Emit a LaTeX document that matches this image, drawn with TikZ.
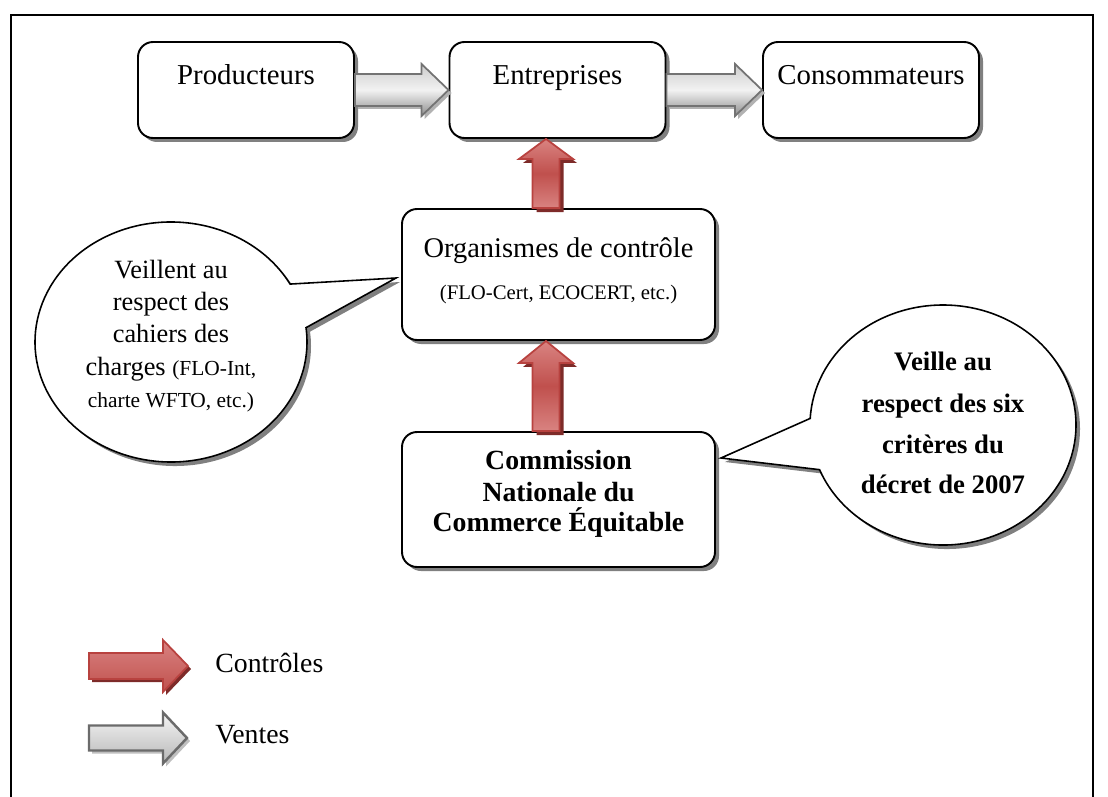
\documentclass[tikz,border=0pt]{standalone}
\usepackage{fontspec}
\setmainfont{Liberation Serif}
\usetikzlibrary{shapes.callouts,shadows,calc}
\newlength\pxl \setlength\pxl{0.02cm}
\definecolor{redbase}{HTML}{C0504D}
\definecolor{redlight}{HTML}{D98381}
\definecolor{reddark}{HTML}{7E2B29}
\definecolor{redline}{HTML}{B8423F}
\newcommand\fsz[1]{\fontsize{#1}{#1}\selectfont}
\begin{document}
\begin{tikzpicture}[x=0.02cm,y=-0.02cm,
  boxsh/.style={drop shadow={shadow xshift=4\pxl, shadow yshift=-4\pxl, fill=black!50, opacity=1}},
  box/.style={draw=black, line width=1.1pt, rounded corners=15\pxl, fill=white, boxsh,
    minimum width=216\pxl, minimum height=96\pxl, inner sep=0pt},
  bigbox/.style={box, minimum width=313\pxl},
  bubble/.style={ellipse callout, draw=black, line width=0.9pt, fill=white, callout pointer arc=22,
    boxsh, inner sep=0pt},
  txt/.style={anchor=base, inner sep=0pt, font=\fsz{16.4}},
  btxt/.style={anchor=base, inner sep=0pt, font=\fsz{15}},
  bbtxt/.style={anchor=base, inner sep=0pt, font=\fsz{15.2}\bfseries},
  grayarrow/.style={draw=black!55, line width=1pt, top color=black!20, bottom color=black!45, middle color=black!5,
    drop shadow={shadow xshift=3\pxl, shadow yshift=-3\pxl, fill=black!30, opacity=1}},
  redarrow/.style={draw=redline, line width=1pt, top color=redlight, bottom color=redlight, middle color=redbase,
    drop shadow={shadow xshift=4\pxl, shadow yshift=-4\pxl, fill=reddark, opacity=1}},
  legred/.style={draw=redline, line width=1pt, top color=redlight, bottom color=redbase,
    drop shadow={shadow xshift=3\pxl, shadow yshift=-3\pxl, fill=reddark, opacity=1}},
  leggray/.style={draw=black!58, line width=1.4pt, top color=black!4, bottom color=black!28,
    drop shadow={shadow xshift=3\pxl, shadow yshift=-3\pxl, fill=black!25, opacity=1}}
]
\useasboundingbox (0,0) rectangle (1108,797);
% frame
\draw[line width=0.9pt] (11,797) -- (11,15) -- (1093,15) -- (1093,797);

% boxes
\node[box] (prod) at (246,90) {};
\node[box] (entr) at (557.5,90) {};
\node[box] (cons) at (871,90) {};
\node[bigbox, minimum height=131\pxl] (org) at (558.5,274.5) {};
\node[bigbox, minimum height=135\pxl] (comm) at (558.5,499.5) {};

% box texts
\node[txt] (prodt) at ($(prod.north)+(0,43)$) {Producteurs};
\node[txt] (entrt) at ($(entr.north)+(0,43)$) {Entreprises};
\node[txt] (const) at ($(cons.north)+(0,43)$) {Consommateurs};
\node[txt, font=\fsz{16.2}] (orgt1) at ($(org.north)+(0,49)$) {Organismes de contrôle};
\node[txt, font=\fsz{11.8}] (orgt2) at ($(org.north)+(0,91)$) {(FLO-Cert, ECOCERT, etc.)};
\node[txt, font=\fsz{15.8}\bfseries] (commt1) at ($(comm.north)+(0,38)$) {Commission};
\node[txt, font=\fsz{15.8}\bfseries] (commt2) at ($(comm.north)+(0,70)$) {Nationale du};
\node[txt, font=\fsz{15.8}\bfseries] (commt3) at ($(comm.north)+(0,100)$) {Commerce Équitable};

% callouts
\coordinate (tipL) at ($(org.west)+(-5,3.5)$);
\coordinate (tipR) at ($(comm.east)+(5,-41.5)$);
\node[bubble, minimum width=272\pxl, minimum height=240\pxl, callout absolute pointer={(tipL)}] (bubL) at (171,342) {};
\node[bubble, callout pointer arc=25, minimum width=266\pxl, minimum height=240\pxl, callout absolute pointer={(tipR)}] (bubR) at (943,425) {};

\node[btxt] (bl1) at (171,278) {Veillent au};
\node[btxt] (bl2) at (171,310) {respect des};
\node[btxt] (bl3) at (171,342) {cahiers des};
\node[btxt] (bl4) at (171,375) {charges {\fsz{12.2}(FLO-Int,}};
\node[btxt, font=\fsz{12.2}] (bl5) at (171,407) {charte WFTO, etc.)};

\node[bbtxt] (br1) at (943,370) {Veille au};
\node[bbtxt] (br2) at (943,412) {respect des six};
\node[bbtxt] (br3) at (943,453) {critères du};
\node[bbtxt] (br4) at (943,493) {décret de 2007};

% gray arrows (ventes)
\path[grayarrow] ($(prod.east)+(0,-16)$) -- ($(entr.west)+(-27,-16)$) -- ($(entr.west)+(-27,-26)$) -- (entr.west)
  -- ($(entr.west)+(-27,26)$) -- ($(entr.west)+(-27,16)$) -- ($(prod.east)+(0,16)$) -- cycle;
\path[grayarrow] ($(entr.east)+(0,-16)$) -- ($(cons.west)+(-27,-16)$) -- ($(cons.west)+(-27,-26)$) -- (cons.west)
  -- ($(cons.west)+(-27,26)$) -- ($(cons.west)+(-27,16)$) -- ($(entr.east)+(0,16)$) -- cycle;

% red arrows (controles)
\coordinate (t1) at ($(org.north)+(-12.5,0)$);
\coordinate (h1) at ($(entr.south)+(-11.5,0)$);
\coordinate (t2) at ($(comm.north)+(-12.5,0)$);
\coordinate (h2) at ($(org.south)+(-12.5,0)$);
\path[redarrow] ($(t1)+(-13.5,0)$) -- ($(h1)+(-13.5,20)$) -- ($(h1)+(-27,20)$) -- (h1)
  -- ($(h1)+(27,20)$) -- ($(h1)+(13.5,20)$) -- ($(t1)+(13.5,0)$) -- cycle;
\path[redarrow] ($(t2)+(-13.5,0)$) -- ($(h2)+(-13.5,22)$) -- ($(h2)+(-27,22)$) -- (h2)
  -- ($(h2)+(27,22)$) -- ($(h2)+(13.5,22)$) -- ($(t2)+(13.5,0)$) -- cycle;

% legend
\coordinate (lr1) at (89,666);
\coordinate (lr2) at (188,666);
\coordinate (lg1) at (89,738);
\coordinate (lg2) at (187,738);
\path[legred] ($(lr1)+(0,-13)$) -- ($(lr2)+(-25,-13)$) -- ($(lr2)+(-25,-26)$) -- (lr2)
  -- ($(lr2)+(-25,26)$) -- ($(lr2)+(-25,13)$) -- ($(lr1)+(0,13)$) -- cycle;
\path[leggray] ($(lg1)+(0,-12.5)$) -- ($(lg2)+(-24,-12.5)$) -- ($(lg2)+(-24,-25.5)$) -- (lg2)
  -- ($(lg2)+(-24,25.5)$) -- ($(lg2)+(-24,12.5)$) -- ($(lg1)+(0,12.5)$) -- cycle;
\node[anchor=base west, inner sep=0pt, font=\fsz{15.8}] (lctrl) at (215,672) {Contrôles};
\node[anchor=base west, inner sep=0pt, font=\fsz{15.8}] (lvent) at (215,743) {Ventes};
\end{tikzpicture}
\end{document}
